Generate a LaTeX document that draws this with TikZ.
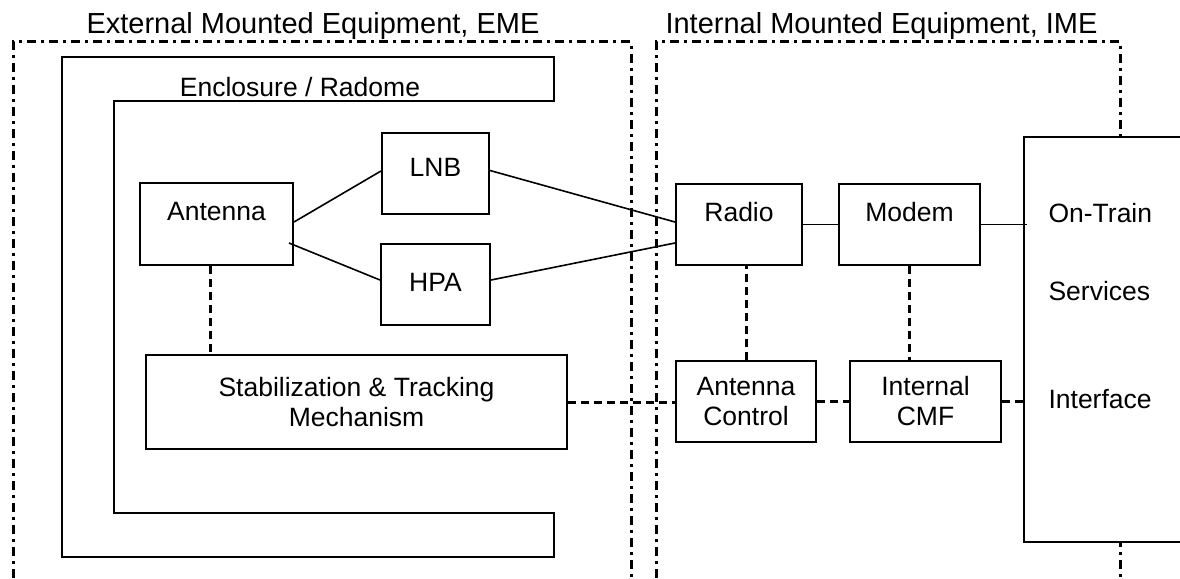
\documentclass[tikz,border=0pt]{standalone}
\usepackage{fontspec}
\setmainfont{Liberation Sans}
\usetikzlibrary{positioning,calc}
\tikzset{
	x=1pt, y=-1pt, % one unit per pixel, y runs downwards
	box/.style={draw, line width=2pt, fill=white, inner sep=2pt, font=\fontsize{26.5}{30}\selectfont}, % every block
	oneline/.style={box, text height=19pt}, % single line blocks, text moved with text depth
	link/.style={line width=1.6pt}, % RF and data links
	ctrl/.style={line width=3pt, dash pattern=on 8pt off 5pt}, % control links
	zone/.style={line width=3pt, dash pattern=on 9pt off 5pt on 3pt off 5pt}, % EME / IME borders
	title/.style={font=\fontsize{29}{34}\selectfont, anchor=base},
	plain/.style={font=\fontsize{26.5}{30}\selectfont, anchor=base},
}

\begin{document}
\begin{tikzpicture}
	\useasboundingbox (0,0) rectangle (1180,578);
	
	% equipment zones
	\draw[zone] (13,600) -- (13,42) -- (631,42) -- (631,600);
	\draw[zone] (656,600) -- (656,42) -- (1120,42) -- (1120,600);
	\node[title] (emelabel) at (313,34) {External Mounted Equipment, EME};
	\node[title] (imelabel) at (881.5,34) {Internal Mounted Equipment, IME};
	
	% radome
	\draw[line width=2pt] (62,57) -- (554,57) -- (554,101) -- (114,101) -- (114,513) -- (554,513) -- (554,557) -- (62,557) -- cycle;
	\node[plain] (radome) at (300,96) {Enclosure / Radome};
	
	% blocks
	\node[oneline, minimum width=153pt, minimum height=82pt, text depth=27pt] (ant) at (216.5,224) {Antenna};
	\node[oneline, minimum width=107pt, minimum height=81pt, text depth=14pt] (lnb) at (435.5,173.5) {LNB};
	\node[oneline, minimum width=109pt, minimum height=81pt, text depth=6pt, below=28pt of lnb] (hpa) {HPA};
	\node[box, minimum width=421pt, minimum height=94pt, align=center] (stab) at (356.5,402) {Stabilization \& Tracking\\Mechanism};
	\node[oneline, minimum width=126pt, minimum height=81pt, text depth=26pt] (radio) at (739,224.5) {Radio};
	\node[oneline, minimum width=141pt, minimum height=81pt, text depth=26pt, right=35pt of radio] (modem) {Modem};
	\node[box, minimum width=140pt, minimum height=81pt, align=center] (ac) at (746,401.5) {Antenna\\Control};
	\node[box, minimum width=151pt, minimum height=81pt, align=center, right=32pt of ac] (cmf) {Internal\\CMF};
	\node[box, minimum width=176pt, minimum height=405pt] (train) at (1112,339.5) {};
	\node[plain, anchor=base west] (svc1) at (1045,222) {On-Train};
	\node[plain, anchor=base west] (svc2) at (1045,300) {Services};
	\node[plain, anchor=base west] (svc3) at (1045,408) {Interface};
	
	% links
	\draw[link] ([yshift=2pt]ant.east) -- ([yshift=2.5pt]lnb.west);
	\draw[link] ([xshift=-5pt,yshift=-19pt]ant.east) -- ([yshift=4.5pt]hpa.west);
	\draw[link] ([yshift=3pt]lnb.east) -- ([yshift=2.5pt]radio.west);
	\draw[link] ([yshift=4.5pt]hpa.east) -- ([yshift=-18.5pt]radio.west);
	\draw[link] (radio.east) -- (modem.west);
	\draw[link] (modem.east) -- ($(modem.east -| train.west)+(4,0)$);
	
	% control
	\draw[ctrl] ($(ant.south)+(-6.5,0)$) -- ($(ant.south |- stab.north)+(-6.5,0)$);
	\draw[ctrl] (ac.north) -- (ac.north |- radio.south);
	\draw[ctrl] (modem.south) -- (modem.south |- cmf.north);
	\draw[ctrl] (stab.east) -- (stab.east -| ac.west);
	\draw[ctrl] (ac.east) -- (ac.east -| cmf.west);
	\draw[ctrl] (cmf.east) -- ($(cmf.east -| train.west)+(4,0)$);
\end{tikzpicture}
\end{document}
